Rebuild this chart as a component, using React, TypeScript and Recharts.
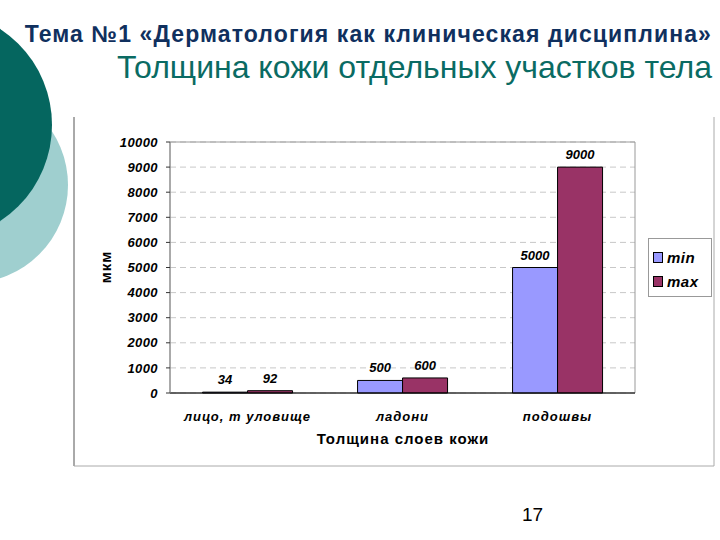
import { BarChart, Bar, XAxis, YAxis, CartesianGrid, LabelList, ReferenceArea } from 'recharts'

const categories = ['лицо, т уловище', 'ладони', 'подошвы']
const minValues = [34, 500, 5000]
const maxValues = [92, 600, 9000]
const yTicks = [0, 1000, 2000, 3000, 4000, 5000, 6000, 7000, 8000, 9000, 10000]
const seriesNames = ['min', 'max']

const FONT = '"Liberation Sans", Arial, sans-serif'
const MIN_COLOR = '#9999ff'
const MAX_COLOR = '#993366'

const data = categories.map((c, i) => ({ name: c, min: minValues[i], max: maxValues[i], pos: i }))

function LegendBox() {
  const colors = [MIN_COLOR, MAX_COLOR]
  return (
    <div style={{ position: 'absolute', left: 648, top: 238, border: '1px solid #999', background: '#fff', width: 64, height: 59, boxSizing: 'border-box', padding: '6px 0 0 4px' }}>
      {seriesNames.map((n, i) => (
        <div key={n} style={{ display: 'flex', alignItems: 'center', height: 24, fontFamily: FONT, fontWeight: 'bold', fontStyle: 'italic', fontSize: 15, letterSpacing: 0.5, color: '#000' }}>
          <span style={{ width: 8, height: 9, background: colors[i], border: '1px solid #000', marginRight: 4 }} />
          {n}
        </div>
      ))}
    </div>
  )
}

export default function App() {
  const tickStyle = { fontFamily: FONT, fontWeight: 'bold', fontStyle: 'italic', fontSize: 13, fill: '#000' }
  return (
    <div style={{ position: 'absolute', left: 0, top: 0, width: 720, height: 540, background: '#fff', overflow: 'hidden', fontFamily: FONT }}>
      <svg width={720} height={540} style={{ position: 'absolute', left: 0, top: 0 }}>
        <circle cx={-30} cy={185} r={98} fill="#9fcfcf" />
        <circle cx={-63} cy={125} r={115} fill="#05665f" />
        <line x1={74} y1={117} x2={74} y2={466} stroke="#555" strokeWidth={1} />
        <line x1={74} y1={466} x2={714} y2={466} stroke="#aaa" strokeWidth={1} />
        <line x1={714} y1={117} x2={714} y2={466} stroke="#aaa" strokeWidth={1} />
      </svg>
      <div style={{ position: 'absolute', right: 8, top: 23, fontSize: 23, lineHeight: 1, fontWeight: 'bold', letterSpacing: 1.1, color: '#10305e', whiteSpace: 'nowrap' }}>
        Тема №1 «Дерматология как клиническая дисциплина»
      </div>
      <div style={{ position: 'absolute', right: 8, top: 51, fontSize: 32, lineHeight: 1, color: '#0a6b63', whiteSpace: 'nowrap' }}>
        Толщина кожи отдельных участков тела
      </div>
      <div style={{ position: 'absolute', left: 522, top: 504, fontSize: 19, color: '#000' }}>17</div>
      <div style={{ position: 'absolute', left: 0, top: 0 }}>
        <BarChart width={720} height={540} data={data} margin={{ top: 142, right: 85, left: 110, bottom: 117 }} barCategoryGap="21%" barGap={0}>
          <CartesianGrid vertical={false} strokeDasharray="6 4" stroke="#c8c8c8" />
          <ReferenceArea xAxisId="cat" y1={0} y2={10000} fill="none" stroke="#999" strokeOpacity={1} ifOverflow="visible" />
          <XAxis dataKey="name" xAxisId="cat" axisLine={{ stroke: '#000' }} tickLine={false} tick={{ ...tickStyle, letterSpacing: 1 }} tickMargin={13} height={30} />
          <XAxis xAxisId="edge" type="number" dataKey="pos" domain={[0, 3]} ticks={[0, 1, 2, 3]} axisLine={false} tick={false} tickSize={5} tickLine={{ stroke: '#000' }} height={0} />
          <YAxis domain={[0, 10000]} ticks={yTicks} interval={0} axisLine={{ stroke: '#888' }} tickLine={{ stroke: '#333' }} tickSize={4} tickMargin={8} tick={{ ...tickStyle, letterSpacing: 0.4 }} width={60} />
          <Bar xAxisId="cat" dataKey="min" name="min" fill={MIN_COLOR} stroke="#000" strokeWidth={1} isAnimationActive={false}>
            <LabelList dataKey="min" position="top" offset={8} style={tickStyle} />
          </Bar>
          <Bar xAxisId="cat" dataKey="max" name="max" fill={MAX_COLOR} stroke="#000" strokeWidth={1} isAnimationActive={false}>
            <LabelList dataKey="max" position="top" offset={8} style={tickStyle} />
          </Bar>
        </BarChart>
      </div>
      <div style={{ position: 'absolute', left: 105, top: 267, transform: 'translate(-50%, -50%) rotate(-90deg)', transformOrigin: 'center', fontSize: 15, fontWeight: 'bold', letterSpacing: 1, whiteSpace: 'nowrap', lineHeight: 1 }}>
        мкм
      </div>
      <div style={{ position: 'absolute', left: 403, top: 431, transform: 'translateX(-50%)', fontSize: 15, fontWeight: 'bold', letterSpacing: 1, whiteSpace: 'nowrap', lineHeight: 1 }}>
        Толщина слоев кожи
      </div>
      <LegendBox />
    </div>
  )
}
